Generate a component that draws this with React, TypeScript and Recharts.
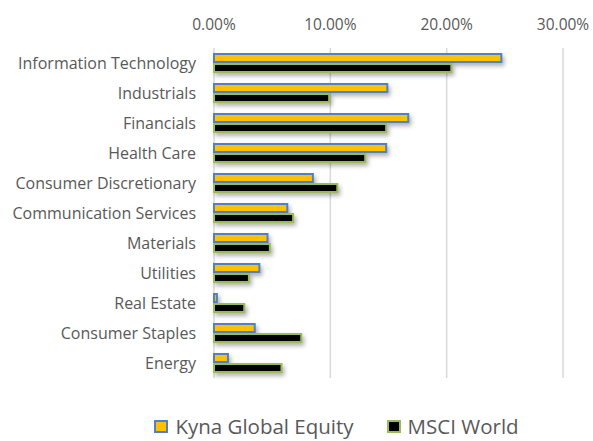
import React from 'react';
import { BarChart, Bar, XAxis, YAxis, CartesianGrid, Legend } from 'recharts';

const sectors = [
  'Information Technology',
  'Industrials',
  'Financials',
  'Health Care',
  'Consumer Discretionary',
  'Communication Services',
  'Materials',
  'Utilities',
  'Real Estate',
  'Consumer Staples',
  'Energy',
];
const kynaValues = [24.7, 14.9, 16.7, 14.8, 8.5, 6.3, 4.6, 3.9, 0.25, 3.5, 1.2];
const msciValues = [20.4, 9.9, 14.8, 13.0, 10.6, 6.8, 4.8, 3.0, 2.6, 7.5, 5.8];
const xTicks = [0, 10, 20, 30];

const data = sectors.map((name, i) => ({ name, kyna: kynaValues[i], msci: msciValues[i] }));

const FONT = '"Open Sans", sans-serif';
const TEXT = '#595959';

// bars with an outline and a soft shadow, like the office chart
const ShadowBar = (props: any) => {
  const { x, y, width, height, fill, stroke } = props;
  if (width == null || height == null) return null;
  return (
    <rect
      x={x}
      y={y}
      width={Math.max(width, 0)}
      height={height}
      fill={fill}
      stroke={stroke}
      strokeWidth={2}
      style={{ filter: 'drop-shadow(2px 3px 2px rgba(0,0,0,0.3))' }}
    />
  );
};

const LegendContent = () => (
  <div
    style={{
      display: 'flex',
      justifyContent: 'center',
      alignItems: 'center',
      height: 28,
      lineHeight: '28px',
      gap: 33,
      fontFamily: FONT,
      fontSize: 20.5,
      color: TEXT,
      paddingLeft: 110,
    }}
  >
    <span style={{ display: 'flex', alignItems: 'center' }}>
      <span style={{ width: 10, height: 9, background: '#FFC000', border: '2px solid #4F81C7', marginRight: 7 }} />
      Kyna Global Equity
    </span>
    <span style={{ display: 'flex', alignItems: 'center' }}>
      <span style={{ width: 10, height: 9, background: '#000', border: '2px solid #9BBB59', marginRight: 7 }} />
      MSCI World
    </span>
  </div>
);

export default function App() {
  return (
    <div style={{ position: 'absolute', left: 0, top: 0, width: 593, height: 441, background: '#fff', overflow: 'hidden' }}>
      <BarChart
        width={593}
        height={441}
        data={data}
        layout="vertical"
        margin={{ top: 0, right: 30, bottom: 35, left: 0 }}
        barSize={8}
        barGap={2}
      >
        <CartesianGrid horizontal={false} stroke="#d9d9d9" strokeWidth={1.5} />
        <XAxis
          type="number"
          orientation="top"
          domain={[0, 30]}
          ticks={xTicks}
          tickFormatter={(v: number) => `${v.toFixed(2)}%`}
          axisLine={false}
          tickLine={false}
          tickSize={6}
          tickMargin={12}
          height={48}
          tick={{ fill: TEXT, fontSize: 15.5, fontFamily: FONT }}
          interval={0}
        />
        <YAxis
          type="category"
          dataKey="name"
          width={214}
          axisLine={false}
          tickLine={false}
          tickSize={6}
          tickMargin={12}
          tick={{ fill: TEXT, fontSize: 16, fontFamily: FONT }}
          interval={0}
        />
        <Legend content={<LegendContent />} verticalAlign="bottom" height={28} wrapperStyle={{ bottom: 1 }} />
        <Bar dataKey="kyna" name="Kyna Global Equity" fill="#FFC000" stroke="#4F81C7" shape={ShadowBar} isAnimationActive={false} />
        <Bar dataKey="msci" name="MSCI World" fill="#000000" stroke="#9BBB59" shape={ShadowBar} isAnimationActive={false} />
      </BarChart>
    </div>
  );
}
